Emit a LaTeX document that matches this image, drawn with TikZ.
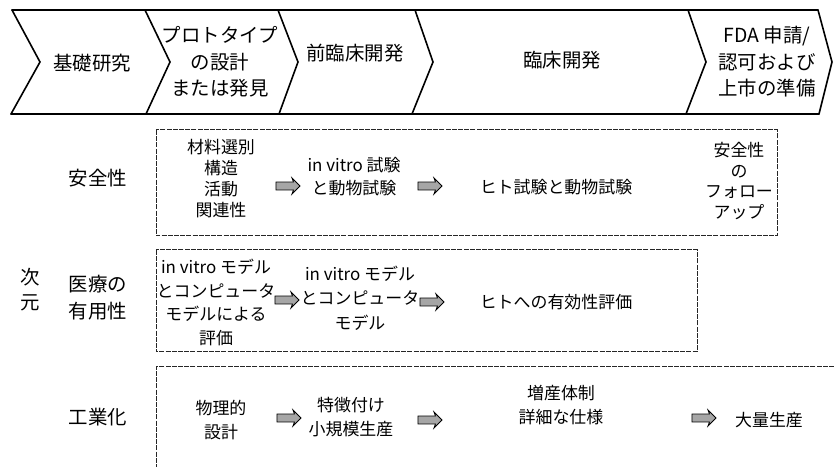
\documentclass[tikz,border=0pt]{standalone}
\usepackage{fontspec}
\setmainfont{Noto Sans CJK JP}
\usetikzlibrary{shapes.arrows}
\begin{document}
\begin{tikzpicture}[x=1bp,y=-1bp,
  band/.style={line width=1.6bp, line join=miter, line cap=round},
  dbox/.style={draw=black!85, line width=1bp, dash pattern=on 5bp off 1.2bp},
  hd/.style={font=\fontsize{19.5}{26.5}\selectfont, align=center, inner sep=0},
  lb/.style={font=\fontsize{19.5}{#1}\selectfont, align=center, inner sep=0},
  lb/.default=24,
  tx/.style={font=\fontsize{17}{#1}\selectfont, align=center, inner sep=0},
  tx/.default=21,
  arr/.style={single arrow, draw=black, fill=black!35, line width=0.8bp,
    minimum height=24bp, minimum width=16bp, single arrow head extend=4bp,
    single arrow head indent=1.5bp, inner sep=3.5bp}
]
\useasboundingbox (0,0) rectangle (834,467);
\fill[white] (0,0) rectangle (834,467);

% chevron band
\draw[band] (12,10) -- (818,10);
\draw[band] (11,114) -- (819,114);
\draw[band] (12,10) -- (40,62) -- (11,114);
\draw[band] (145,10) -- (170,62) -- (146,114);
\draw[band] (278,10) -- (298,62) -- (279,114);
\draw[band] (415,10) -- (433,62) -- (412,114);
\draw[band] (688,10) -- (706,62) -- (686,114);
\draw[band] (818,10) -- (832,62) -- (819,114);

\node[hd] (p1) at (92,63) {基礎研究};
\node[hd] (p2) at (220,62) {プロトタイプ\\の設計\\または発見};
\node[hd] (p3) at (355,53) {前臨床開発};
\node[hd] (p4) at (562,60) {臨床開発};
\node[hd] (p5) at (767,62) {FDA 申請/\\認可および\\上市の準備};

% dimension labels
\node[lb=25] (dim) at (30,290) {次\\元};
\node[lb] (r1) at (98,178) {安全性};
\node[lb=27] (r2) at (98,298) {医療の\\有用性};
\node[lb] (r3) at (98,417) {工業化};

% boxes
\draw[dbox] (156,130) rectangle (777,236);
\draw[dbox] (156,250) rectangle (697,352);
\draw[dbox] (834,367) -- (156,367) -- (156,467);

% safety row
\node[tx] (s1) at (221,178.5) {材料選別\\構造\\活動\\関連性};
\node[tx=23] (s2) at (354,177) {in vitro 試験\\と動物試験};
\node[tx] (s3) at (556,187) {ヒト試験と動物試験};
\node[tx=21] (s4) at (739,181) {安全性\\の\\フォロー\\アップ};
\node[arr] (sa1) at (286,186) {};
\node[arr] (sa2) at (428,186) {};

% medical row
\node[tx=23.7] (m1) at (216,302.5) {in vitro モデル\\とコンピュータ\\モデルによる\\評価};
\node[tx=24.5] (m2) at (360,298) {in vitro モデル\\とコンピュータ\\モデル};
\node[tx] (m3) at (556,302) {ヒトへの有効性評価};
\node[arr] (ma1) at (285,300) {};
\node[arr] (ma2) at (430,302) {};

% industrial row
\node[tx=24] (i1) at (221,420) {物理的\\設計};
\node[tx=23.5] (i2) at (351,417) {特徴付け\\小規模生産};
\node[tx=24] (i3) at (561,405) {増産体制\\詳細な仕様};
\node[tx] (i4) at (769,420) {大量生産};
\node[arr] (ia1) at (287,418) {};
\node[arr] (ia2) at (428,420) {};
\node[arr] (ia3) at (702,418) {};
\end{tikzpicture}
\end{document}
